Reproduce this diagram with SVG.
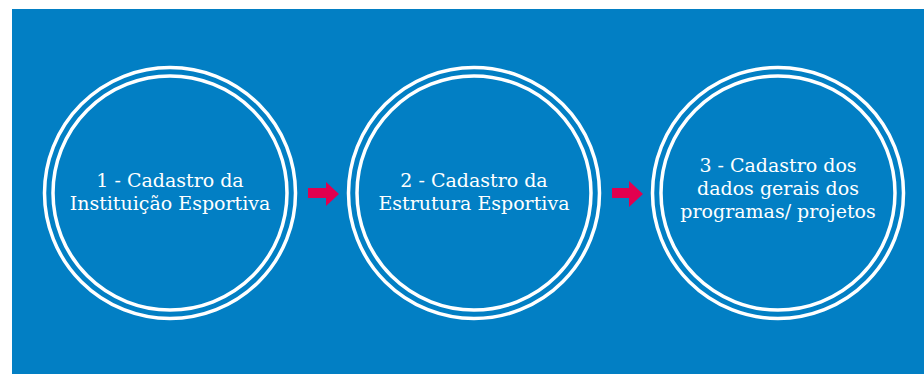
<svg xmlns="http://www.w3.org/2000/svg" width="924" height="374" viewBox="0 0 924 374">
<style>
.bg{fill:#027FC4}
.ring{fill:none;stroke:#fff;stroke-width:3.5}
.lbl{font-family:"DejaVu Serif","Liberation Serif",serif;font-size:19px;fill:#fff;text-anchor:middle}
.arr{fill:#E2004F}
</style>
<rect class="bg" x="12" y="9" width="912" height="365"/>
<g id="node1">
<circle class="ring" cx="170" cy="193" r="125.5"/>
<circle class="ring" cx="170" cy="193" r="117"/>
<text class="lbl" x="170" y="187">1 - Cadastro da</text>
<text class="lbl" x="170" y="210">Instituição Esportiva</text>
</g>
<g id="node2">
<circle class="ring" cx="474" cy="193" r="125.5"/>
<circle class="ring" cx="474" cy="193" r="117"/>
<text class="lbl" x="474" y="187">2 - Cadastro da</text>
<text class="lbl" x="474" y="210">Estrutura Esportiva</text>
</g>
<g id="node3">
<circle class="ring" cx="778" cy="193" r="125.5"/>
<circle class="ring" cx="778" cy="193" r="117"/>
<text class="lbl" x="778" y="172">3 - Cadastro dos</text>
<text class="lbl" x="778" y="195">dados gerais dos</text>
<text class="lbl" x="778" y="218">programas/ projetos</text>
</g>
<g id="connectors">
<polygon class="arr" points="308,188 326,188 326,182 339,194 326,206 326,198 308,198"/>
<polygon class="arr" points="612,188 629,188 629,181 643,194 629,207 629,198 612,198"/>
</g>
</svg>
